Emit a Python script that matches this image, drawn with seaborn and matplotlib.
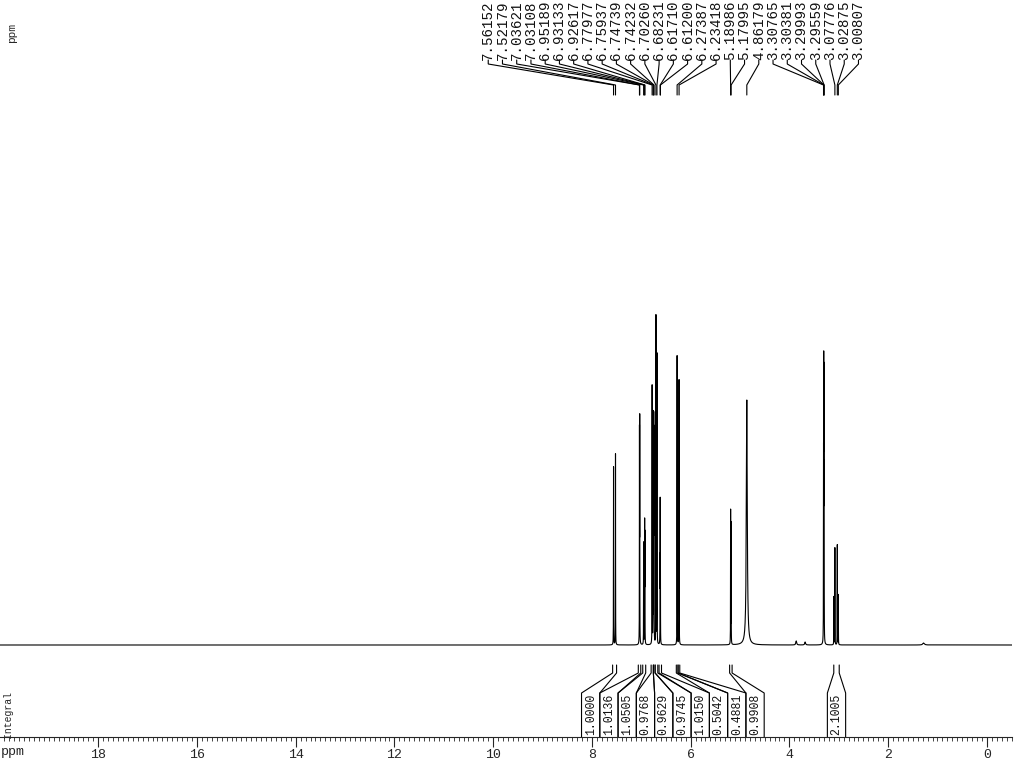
import numpy as np
import pandas as pd
import matplotlib
matplotlib.use("Agg")
import matplotlib.pyplot as plt
import seaborn as sns
from matplotlib.ticker import MultipleLocator, FormatStrFormatter

# picked peaks (ppm), as printed on top of the spectrum
peak_labels = [7.56152, 7.52179, 7.03621, 7.03108, 6.95189, 6.93133, 6.92617,
               6.77977, 6.75937, 6.74739, 6.74232, 6.70260, 6.68231, 6.61710,
               6.61200, 6.27387, 6.23418, 5.18986, 5.17995, 4.86179, 3.30765,
               3.30381, 3.29993, 3.29559, 3.07776, 3.02875, 3.00807]

# spectrum lines: shift (ppm), height, half width (ppm)
line_ppm = [7.5615, 7.5218, 7.0362, 7.0311, 6.9519, 6.9313, 6.9262,
            6.7798, 6.7594, 6.7474, 6.7423, 6.7026, 6.6823, 6.6171, 6.6120,
            6.2739, 6.2342, 5.1899, 5.1800, 4.8618,
            3.3077, 3.3038, 3.2999, 3.2956,
            3.0980, 3.0778, 3.0288, 3.0081,
            3.86, 3.68, 1.28]
line_height = [178, 191, 203, 215, 102, 118, 105,
               258, 228, 213, 200, 328, 290, 141, 81,
               289, 265, 133, 120, 245,
               160, 239, 230, 150,
               48, 97, 100, 50,
               4, 3, 2]
line_hw = [0.0015] * 19 + [0.011] + [0.0015] * 8 + [0.01, 0.01, 0.02]

# integrals
integral_text = ['1.0000', '1.0136', '1.0505', '0.9768', '0.9629', '0.9745',
                 '1.0150', '0.5042', '0.4881', '0.9908', '2.1005']
integral_from = [7.58, 7.06, 6.97, 6.80, 6.755, 6.72, 6.64, 6.29, 6.255, 5.21, 3.10]
integral_to = [7.50, 7.01, 6.91, 6.755, 6.72, 6.665, 6.59, 6.255, 6.22, 5.16, 2.99]
integral_group = [0] * 10 + [1]

# build the trace
ppm = np.union1d(np.arange(-0.51, 19.99, 0.0004), line_ppm)
inten = np.zeros_like(ppm)
for c, h, w in zip(line_ppm, line_height, line_hw):
    inten += h * w**2 / ((ppm - c)**2 + w**2)
spec = pd.DataFrame({'ppm': ppm, 'intensity': inten})

sns.set_style("white")
plt.rcParams['font.family'] = ['Liberation Mono', 'DejaVu Sans Mono']

fig = plt.figure(figsize=(10.24, 7.68), dpi=100)
ax = fig.add_axes([0, 31 / 768, 1012 / 1024, 737 / 768])

sns.lineplot(data=spec, x='ppm', y='intensity', estimator=None, sort=False,
             color='black', linewidth=0.8, ax=ax)

TOP = 645
XL, XR = 19.99, -0.51

# peak labels with leader lines
label_x = np.linspace(10.10, 2.60, len(peak_labels))
for lx, p in zip(label_x, peak_labels):
    ax.text(lx, TOP - 60, f'{p:.5f}', rotation=90, ha='center', va='bottom',
            fontsize=10.2, color='#111111')
    ax.plot([lx, lx, p, p], [TOP - 60, TOP - 64, TOP - 85, TOP - 95],
            color='black', lw=0.8, solid_joinstyle='miter')

# integral boxes
box_w = 0.37
group_start = {0: 8.21, 1: 3.23}
k_in_group = {0: 0, 1: 0}
for txt, a, b, g in zip(integral_text, integral_from, integral_to, integral_group):
    bl = group_start[g] - k_in_group[g] * box_w
    br = bl - box_w
    k_in_group[g] += 1
    for edge, box_edge in ((a, bl), (b, br)):
        ax.plot([edge, edge, box_edge, box_edge], [-20, -28, -48, -92],
                color='black', lw=0.8)
    ax.text((bl + br) / 2, -90, txt, rotation=90, ha='center', va='bottom',
            fontsize=8.3, color='#111111')

ax.set_xlim(XL, XR)
ax.set_ylim(-92, TOP)
for s in ['top', 'left', 'right']:
    ax.spines[s].set_visible(False)
ax.spines['bottom'].set_linewidth(0.8)
ax.set_yticks([])
ax.set_ylabel('')
ax.set_xlabel('')
ax.xaxis.set_major_locator(MultipleLocator(2))
ax.xaxis.set_minor_locator(MultipleLocator(0.1))
ax.xaxis.set_major_formatter(FormatStrFormatter('%d'))
ax.tick_params(axis='x', which='major', direction='out', length=7, width=0.8,
               labelsize=9.5, pad=2, bottom=True)
ax.tick_params(axis='x', which='minor', direction='out', length=3, width=0.6,
               bottom=True)

fig.text(1 / 1024, 1 - 752 / 768, 'ppm', ha='left', va='center', fontsize=9.5)
fig.text(12 / 1024, 1 - 33 / 768, 'ppm', rotation=90, ha='center', va='center',
         fontsize=8)
fig.text(8 / 1024, 1 - 714 / 768, 'Integral', rotation=90, ha='center',
         va='center', fontsize=7)

fig.savefig('out.png', dpi=100, facecolor='white')
